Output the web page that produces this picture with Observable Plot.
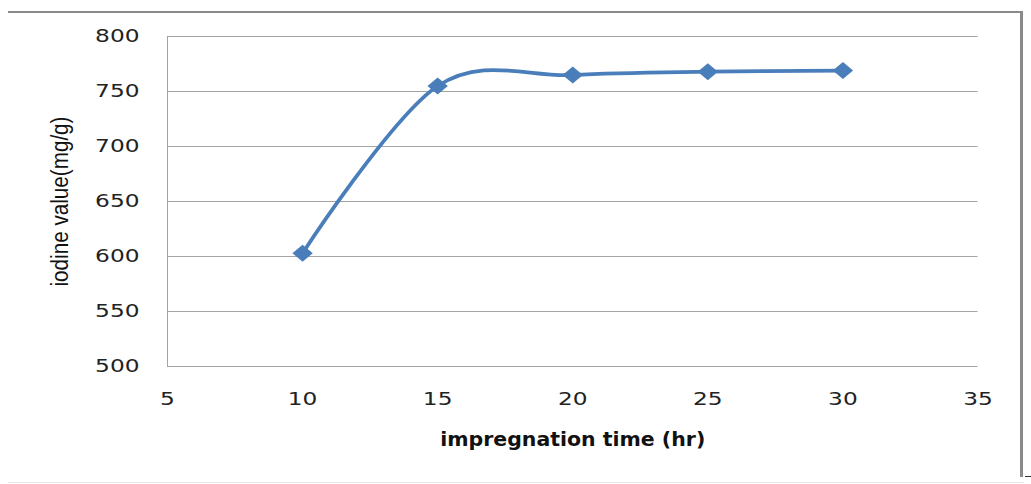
<!DOCTYPE html>
<html><head><meta charset="utf-8">
<script src="https://cdn.jsdelivr.net/npm/d3@7"></script>
<script src="https://cdn.jsdelivr.net/npm/@observablehq/plot@0.6"></script>
<style>
html,body{margin:0;padding:0;background:#fff;}
#wrap{position:relative;width:1031px;height:484px;overflow:hidden;background:#fff;}
#chart svg{position:absolute;left:0;top:0;}
#frame{position:absolute;left:8px;top:11px;width:1012px;height:464px;border-top:2px solid #8a8a8a;border-right:3px solid #8a8a8a;pointer-events:none;}
#bottomline{position:absolute;left:8px;top:482px;width:1016px;height:1px;background:#e8e8e8;}
#dash{position:absolute;left:1025px;top:476px;width:6px;height:1px;background:#333;}
</style>
</head><body>
<div id="wrap"><div id="chart"></div><div id="frame"></div><div id="bottomline"></div><div id="dash"></div></div>
<script>
const times = [10, 15, 20, 25, 30];
const iodine = [603, 755, 765, 768, 769];
const xTicks = [5, 10, 15, 20, 25, 30, 35];
const yTicks = [500, 550, 600, 650, 700, 750, 800];
const xTitle = "impregnation time (hr)";
const yTitle = "iodine value(mg/g)";

const data = times.map((t, i) => ({t, v: iodine[i]}));
const blue = "#4a7ebb";
const grid = "#a3a3a3";

const diamond = {
  draw(ctx, size) {
    const r = Math.sqrt(size / Math.PI);
    ctx.moveTo(0, -r);
    ctx.lineTo(r * 1.2, 0);
    ctx.lineTo(0, r);
    ctx.lineTo(-r * 1.2, 0);
    ctx.closePath();
  }
};

const chart = Plot.plot({
  width: 1031,
  height: 484,
  marginLeft: 167,
  marginRight: 53.5,
  marginTop: 36,
  marginBottom: 118,
  style: {fontFamily: "DejaVu Sans", fontSize: "17.5px", color: "#222", background: "transparent"},
  x: {domain: [5, 35]},
  y: {domain: [500, 800]},
  marks: [
    Plot.gridY(yTicks, {stroke: grid, strokeOpacity: 1}),
    Plot.ruleX([5], {stroke: grid}),
    Plot.axisX(xTicks, {tickSize: 0, tickPadding: 26.5, label: null}),
    Plot.axisY(yTicks, {tickSize: 0, tickPadding: 28, label: null}),
    Plot.line(data, {x: "t", y: "v", curve: "cardinal", stroke: blue, strokeWidth: 3.8}),
    Plot.dot(data, {x: "t", y: "v", r: 8.5, symbol: diamond, fill: blue, stroke: null}),
    Plot.text([xTitle], {frameAnchor: "bottom", dy: 79.5, fontWeight: "bold", fontSize: 19, fill: "#111", fontFamily: "DejaVu Sans"}),
    Plot.text([yTitle], {frameAnchor: "left", textAnchor: "middle", rotate: -90, dx: -106.5, fontSize: 23, fill: "#111", fontFamily: "Liberation Sans"})
  ]
});
document.getElementById("chart").appendChild(chart);

// horizontal stretch of tick labels as in the reference
d3.select(chart).selectAll('g[aria-label="x-axis tick label"] text, g[aria-label="y-axis tick label"] text').each(function() {
  const len = this.getComputedTextLength();
  this.setAttribute("textLength", (len * 1.33).toFixed(1));
  this.setAttribute("lengthAdjust", "spacingAndGlyphs");
});
// title lengths
d3.select(chart).selectAll('g[aria-label="text"] text').each(function() {
  if (this.textContent === xTitle) {
    this.setAttribute("textLength", 265);
    this.setAttribute("lengthAdjust", "spacingAndGlyphs");
  } else if (this.textContent === yTitle) {
    this.setAttribute("textLength", 170);
    this.setAttribute("lengthAdjust", "spacingAndGlyphs");
  }
});
</script>
</body></html>
